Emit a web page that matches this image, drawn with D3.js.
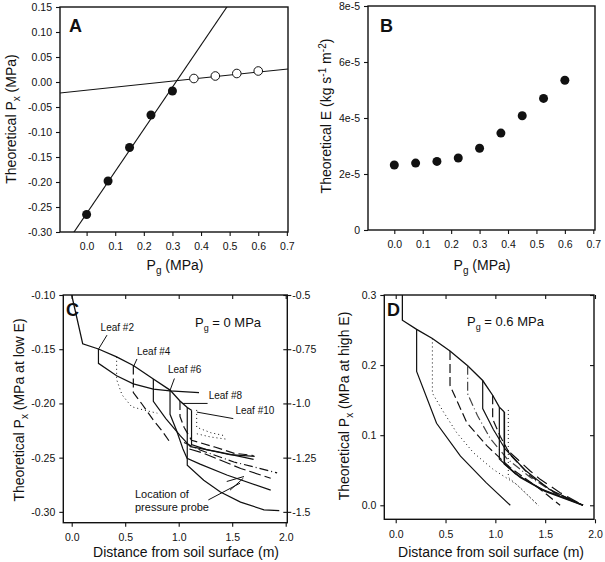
<!DOCTYPE html>
<html><head><meta charset="utf-8">
<script src="https://cdn.jsdelivr.net/npm/d3@7"></script>
<style>
html,body{margin:0;padding:0;background:#fff;}
svg text{font-family:"Liberation Sans",Arial,sans-serif;fill:#111;}
</style></head>
<body><svg id="fig" width="605" height="562"></svg>
<script>
// ---------------- DATA ----------------
// Panel A
const aPgFilled = [0.0, 0.075, 0.15, 0.225, 0.30];
const aPxFilled = [-0.265, -0.198, -0.131, -0.066, -0.018];
const aPgOpen = [0.375, 0.45, 0.525, 0.60];
const aPxOpen = [0.007, 0.012, 0.017, 0.022];
const aFitSteep = [[-0.07, -0.322], [0.52, 0.175]];
const aFitFlat = [[-0.10, -0.0225], [0.71, 0.0265]];
const aXTicks = [0.0, 0.1, 0.2, 0.3, 0.4, 0.5, 0.6, 0.7];
const aYTicks = [0.15, 0.10, 0.05, 0.00, -0.05, -0.10, -0.15, -0.20, -0.25, -0.30];
// Panel B
const bPg = [0.0, 0.075, 0.15, 0.225, 0.30, 0.375, 0.45, 0.525, 0.60];
const bE = [2.32e-5, 2.39e-5, 2.45e-5, 2.57e-5, 2.92e-5, 3.46e-5, 4.08e-5, 4.70e-5, 5.35e-5];
const bYTicks = [0, 2e-5, 4e-5, 6e-5, 8e-5];
const bYLabels = ["0", "2e-5", "4e-5", "6e-5", "8e-5"];
// Panel C (distance m, Px MPa)
const cStem = [[0.0,-0.10],[0.103,-0.145],[0.25,-0.1498],[0.42,-0.157],[0.576,-0.165],[0.763,-0.1775],[0.919,-0.1877],[1.012,-0.1977],[1.08,-0.2038],[1.12,-0.2063]];
const cLeafPaths = [
  [[0.25,-0.1498],[0.25,-0.163],[0.42,-0.1744],[0.576,-0.182],[0.763,-0.1868],[0.919,-0.1884],[1.19,-0.190]],
  [[0.42,-0.157],[0.42,-0.178],[0.47,-0.192],[0.56,-0.203],[0.67,-0.206],[0.80,-0.209]],
  [[0.576,-0.165],[0.576,-0.190],[0.66,-0.201],[0.76,-0.215],[0.85,-0.226],[0.92,-0.236]],
  [[0.763,-0.1775],[0.763,-0.198],[0.88,-0.214],[1.016,-0.230],[1.11,-0.2398],[1.36,-0.2444],[1.70,-0.2516]],
  [[0.919,-0.1877],[0.919,-0.210],[0.98,-0.225],[1.04,-0.242],[1.078,-0.2506],[1.2,-0.256],[1.45,-0.266],[1.86,-0.280]],
  [[1.012,-0.1977],[1.012,-0.212],[1.05,-0.222],[1.12,-0.234],[1.33,-0.240],[1.52,-0.246],[1.70,-0.248]],
  [[1.08,-0.2038],[1.08,-0.257],[1.234,-0.2708],[1.39,-0.2817],[1.578,-0.291],[1.797,-0.2981],[1.94,-0.2988]],
  [[1.12,-0.2063],[1.12,-0.238],[1.26,-0.2426],[1.48,-0.2473],[1.71,-0.2488]],
  [[1.168,-0.206],[1.168,-0.222],[1.30,-0.227],[1.44,-0.230]],
  [[1.17,-0.228],[1.30,-0.231],[1.45,-0.233]],
  [[1.05,-0.236],[1.20,-0.243],[1.516,-0.254],[1.92,-0.264]],
  [[1.1,-0.242],[1.234,-0.246],[1.58,-0.260],[1.86,-0.269]]
];
const cProbeArrows = [[[1.449,-0.272],[1.61,-0.2674]],[[1.48,-0.280],[1.604,-0.269]],[[1.277,-0.289],[1.573,-0.2736]]];
const cLeafLabels = ["Leaf #2","Leaf #4","Leaf #6","Leaf #8","Leaf #10"];
const cLeafLabelAt = [[0.27,-0.133],[0.61,-0.155],[0.90,-0.172],[1.28,-0.196],[1.53,-0.210]];
const cLeafPointTo = [[0.25,-0.150],[0.578,-0.166],[0.919,-0.188],[1.03,-0.2],[1.17,-0.208]];
const cLeafPointFrom = [[0.33,-0.137],[0.61,-0.159],[0.96,-0.177],[1.27,-0.200],[1.51,-0.214]];
const cXTicks = [0.0, 0.5, 1.0, 1.5, 2.0];
const cYTicks = [-0.10, -0.15, -0.20, -0.25, -0.30];
const cY2Ticks = [-0.5, -0.75, -1.0, -1.25, -1.5];
const cY2Labels = ["-0.5", "-0.75", "-1.0", "-1.25", "-1.5"];
// Panel D
const dStem = [[0.067,0.30],[0.067,0.264],[0.21,0.251],[0.368,0.238],[0.545,0.220],[0.722,0.199],[0.873,0.178],[0.973,0.157],[1.04,0.140],[1.09,0.133]];
const dLeafPaths = [
  [[0.21,0.251],[0.21,0.191],[0.41,0.117],[0.65,0.070],[0.91,0.032],[1.15,0.0]],
  [[0.368,0.238],[0.368,0.160],[0.48,0.133],[0.61,0.104],[0.78,0.075],[0.98,0.051],[1.21,0.030],[1.43,0.0]],
  [[0.545,0.220],[0.545,0.171],[0.713,0.118],[0.914,0.085],[1.147,0.054],[1.449,0.023],[1.65,0.0]],
  [[0.722,0.199],[0.722,0.159],[0.82,0.128],[0.95,0.095],[1.12,0.066],[1.35,0.040],[1.60,0.017],[1.88,0.0]],
  [[0.873,0.178],[0.873,0.138],[0.98,0.108],[1.10,0.080],[1.30,0.050],[1.55,0.022],[1.88,0.0]],
  [[0.973,0.157],[0.973,0.123],[1.05,0.098],[1.15,0.072],[1.35,0.042],[1.60,0.018],[1.88,0.0]],
  [[1.04,0.140],[1.04,0.066],[1.20,0.045],[1.45,0.024],[1.88,0.0]],
  [[1.09,0.133],[1.09,0.059],[1.25,0.040],[1.50,0.020],[1.88,0.0]],
  [[1.13,0.136],[1.13,0.040],[1.25,0.025],[1.43,0.0]],
  [[1.15,0.075],[1.35,0.049],[1.45,0.037],[1.65,0.018],[1.88,0.0]]
];
const dXTicks = [0.0, 0.5, 1.0, 1.5, 2.0];
const dYTicks = [0.0, 0.1, 0.2, 0.3];

// ---------------- DRAWING ----------------
const svg = d3.select("#fig");
const C0 = "#111";
function box(g, x0, x1, y0, y1){
  g.append("rect").attr("x",x0).attr("y",y0).attr("width",x1-x0).attr("height",y1-y0)
   .attr("fill","none").attr("stroke",C0).attr("stroke-width",1.4);
}
function styleAxis(sel){
  sel.select(".domain").remove();
  sel.selectAll(".tick line").attr("stroke",C0).attr("stroke-width",1.1);
  sel.selectAll(".tick text").attr("font-size","10.5px").attr("fill",C0).style("font-family","'Liberation Sans',Arial,sans-serif");
}
function clip(id,x0,x1,y0,y1){
  svg.append("clipPath").attr("id",id).append("rect").attr("x",x0).attr("y",y0).attr("width",x1-x0).attr("height",y1-y0);
}
const lineGen = (x,y)=>d3.line().x(d=>x(d[0])).y(d=>y(d[1]));
const minusFix = f => d => f(d).replace("\u2212","-");

// ===== Panel A =====
{
  const L=60,R=288,T=7,B=232;
  const x=d3.scaleLinear().domain([-0.093,0.704]).range([L,R]);
  const y=d3.scaleLinear().domain([-0.30,0.15]).range([B,T]);
  const g=svg.append("g");
  clip("clipA",L,R,T,B);
  const lg=g.append("g").attr("clip-path","url(#clipA)");
  [aFitSteep,aFitFlat].forEach(p=>lg.append("path").attr("d",lineGen(x,y)(p)).attr("fill","none").attr("stroke",C0).attr("stroke-width",1.1));
  box(g,L,R,T,B);
  g.append("g").attr("transform",`translate(0,${B})`).call(d3.axisBottom(x).tickValues(aXTicks).tickFormat(d3.format(".1f")).tickSize(4).tickPadding(7)).call(styleAxis);
  g.append("g").attr("transform",`translate(${L},0)`).call(d3.axisLeft(y).tickValues(aYTicks).tickFormat(minusFix(d3.format(".2f"))).tickSize(4).tickPadding(4)).call(styleAxis);
  g.selectAll(".fA").data(aPgFilled).enter().append("circle").attr("cx",d=>x(d)).attr("cy",(d,i)=>y(aPxFilled[i])).attr("r",4.5).attr("fill",C0);
  g.selectAll(".oA").data(aPgOpen).enter().append("circle").attr("cx",d=>x(d)).attr("cy",(d,i)=>y(aPxOpen[i])).attr("r",4.3).attr("fill","#fff").attr("stroke",C0).attr("stroke-width",1);
  g.append("text").attr("x",69).attr("y",32).attr("font-size","18px").attr("font-weight","bold").text("A");
  const t=g.append("text").attr("x",175).attr("y",270).attr("text-anchor","middle").attr("font-size","14px");
  t.append("tspan").text("P"); t.append("tspan").attr("font-size","10px").attr("dy",4).text("g"); t.append("tspan").attr("dy",-4).text(" (MPa)");
  const ty=g.append("text").attr("transform","translate(16,119) rotate(-90)").attr("text-anchor","middle").attr("font-size","14px");
  ty.append("tspan").text("Theoretical P"); ty.append("tspan").attr("font-size","10px").attr("dy",4).text("x"); ty.append("tspan").attr("dy",-4).text(" (MPa)");
}
// ===== Panel B =====
{
  const L=368,R=595,T=6,B=230;
  const x=d3.scaleLinear().domain([-0.0925,0.706]).range([L,R]);
  const y=d3.scaleLinear().domain([0,8e-5]).range([B,T]);
  const g=svg.append("g");
  box(g,L,R,T,B);
  g.append("g").attr("transform",`translate(0,${B})`).call(d3.axisBottom(x).tickValues(aXTicks).tickFormat(d3.format(".1f")).tickSize(4).tickPadding(7)).call(styleAxis);
  g.append("g").attr("transform",`translate(${L},0)`).call(d3.axisLeft(y).tickValues(bYTicks).tickFormat((d,i)=>bYLabels[i]).tickSize(4).tickPadding(4)).call(styleAxis);
  g.selectAll(".fB").data(bPg).enter().append("circle").attr("cx",d=>x(d)).attr("cy",(d,i)=>y(bE[i])).attr("r",4.5).attr("fill",C0);
  g.append("text").attr("x",380).attr("y",32).attr("font-size","18px").attr("font-weight","bold").text("B");
  const t=g.append("text").attr("x",482).attr("y",270).attr("text-anchor","middle").attr("font-size","14px");
  t.append("tspan").text("P"); t.append("tspan").attr("font-size","10px").attr("dy",4).text("g"); t.append("tspan").attr("dy",-4).text(" (MPa)");
  const ty=g.append("text").attr("transform","translate(331,116) rotate(-90)").attr("text-anchor","middle").attr("font-size","14px");
  ty.append("tspan").text("Theoretical E (kg s");
  ty.append("tspan").attr("font-size","10px").attr("dy",-5).text("-1");
  ty.append("tspan").attr("dy",5).text(" m");
  ty.append("tspan").attr("font-size","10px").attr("dy",-5).text("-2");
  ty.append("tspan").attr("dy",5).text(")");
}
const dashes = ["", "1,3", "9,4", "", "", "9,4", "", "", "1,3", "1,3", "9,3,1,3", "12,4"];
// ===== Panel C =====
{
  const L=63.3,R=287.3,T=295,B=522.7;
  const x=d3.scaleLinear().domain([-0.0785,2.015]).range([L,R]);
  const y=d3.scaleLinear().domain([-0.31,-0.10]).range([B,T]);
  const y2=d3.scaleLinear().domain([-1.55,-0.5]).range([B,T]);
  const g=svg.append("g");
  clip("clipC",L,R,T,B);
  const lg=g.append("g").attr("clip-path","url(#clipC)");
  lg.append("path").attr("d",lineGen(x,y)(cStem)).attr("fill","none").attr("stroke",C0).attr("stroke-width",1.3);
  cLeafPaths.forEach((p,i)=>lg.append("path").attr("d",lineGen(x,y)(p)).attr("fill","none").attr("stroke",C0)
     .attr("stroke-width",dashes[i]==="1,3"?1.0:1.2).attr("stroke-dasharray",dashes[i]||null));
  cProbeArrows.forEach(p=>lg.append("path").attr("d",lineGen(x,y)(p)).attr("fill","none").attr("stroke",C0).attr("stroke-width",1));
  cLeafPointFrom.forEach((p,i)=>lg.append("path").attr("d",lineGen(x,y)([p,cLeafPointTo[i]])).attr("fill","none").attr("stroke",C0).attr("stroke-width",1));
  box(g,L,R,T,B);
  g.append("g").attr("transform",`translate(0,${B})`).call(d3.axisBottom(x).tickValues(cXTicks).tickFormat(d3.format(".1f")).tickSize(4).tickPadding(7)).call(styleAxis);
  g.append("g").attr("transform",`translate(0,${T})`).call(d3.axisBottom(x).tickValues(cXTicks).tickFormat("").tickSize(4)).call(styleAxis);
  g.append("g").attr("transform",`translate(${L},0)`).call(d3.axisLeft(y).tickValues(cYTicks).tickFormat(minusFix(d3.format(".2f"))).tickSize(4).tickPadding(4)).call(styleAxis);
  const ra=g.append("g").attr("transform",`translate(${R},0)`).call(d3.axisRight(y2).tickValues(cY2Ticks).tickFormat((d,i)=>cY2Labels[i]).tickSize(4).tickPadding(1)).call(styleAxis);
  ra.selectAll(".tick line").attr("x1",-4);
  cLeafLabels.forEach((s,i)=>g.append("text").attr("x",x(cLeafLabelAt[i][0])).attr("y",y(cLeafLabelAt[i][1])).attr("font-size","10px").text(s));
  g.append("text").attr("x",135).attr("y",498).attr("font-size","11px").text("Location of");
  g.append("text").attr("x",135).attr("y",511).attr("font-size","11px").text("pressure probe");
  const pg=g.append("text").attr("x",195).attr("y",327).attr("font-size","13px");
  pg.append("tspan").text("P"); pg.append("tspan").attr("font-size","9px").attr("dy",4).text("g"); pg.append("tspan").attr("dy",-4).text(" = 0 MPa");
  g.append("text").attr("x",66).attr("y",316).attr("font-size","18px").attr("font-weight","bold").text("C");
  g.append("text").attr("x",186).attr("y",557).attr("text-anchor","middle").attr("font-size","14px").text("Distance from soil surface (m)");
  const ty=g.append("text").attr("transform","translate(24,410) rotate(-90)").attr("text-anchor","middle").attr("font-size","14px");
  ty.append("tspan").text("Theoretical P"); ty.append("tspan").attr("font-size","10px").attr("dy",4).text("x"); ty.append("tspan").attr("dy",-4).text(" (MPa at low E)");
}
const dDashes = ["", "1,3", "9,4", "9,3,1,3", "", "9,4", "", "", "1,3", "12,6"];
// ===== Panel D =====
{
  const L=384.3,R=594,T=295,B=519.3;
  const x=d3.scaleLinear().domain([-0.1145,1.99]).range([L,R]);
  const y=d3.scaleLinear().domain([-0.02,0.30]).range([B,T]);
  const g=svg.append("g");
  clip("clipD",L,R,T,B);
  const lg=g.append("g").attr("clip-path","url(#clipD)");
  lg.append("path").attr("d",lineGen(x,y)(dStem)).attr("fill","none").attr("stroke",C0).attr("stroke-width",1.3);
  dLeafPaths.forEach((p,i)=>lg.append("path").attr("d",lineGen(x,y)(p)).attr("fill","none").attr("stroke",i===3?"#444":C0)
     .attr("stroke-width",dDashes[i]==="1,3"?1.0:(i===7?1.6:1.2)).attr("stroke-dasharray",dDashes[i]||null));
  box(g,L,R,T,B);
  g.append("g").attr("transform",`translate(0,${B})`).call(d3.axisBottom(x).tickValues(dXTicks).tickFormat(d3.format(".1f")).tickSize(4).tickPadding(7)).call(styleAxis);
  g.append("g").attr("transform",`translate(0,${T})`).call(d3.axisBottom(x).tickValues(dXTicks).tickFormat("").tickSize(4)).call(styleAxis);
  g.append("g").attr("transform",`translate(${L},0)`).call(d3.axisLeft(y).tickValues(dYTicks).tickFormat(d3.format(".1f")).tickSize(4).tickPadding(4)).call(styleAxis);
  g.append("g").attr("transform",`translate(${R},0)`).call(d3.axisLeft(y).tickValues(dYTicks).tickFormat("").tickSize(4)).call(styleAxis);
  const pg=g.append("text").attr("x",467).attr("y",326).attr("font-size","13px");
  pg.append("tspan").text("P"); pg.append("tspan").attr("font-size","9px").attr("dy",4).text("g"); pg.append("tspan").attr("dy",-4).text(" = 0.6 MPa");
  g.append("text").attr("x",387).attr("y",316).attr("font-size","18px").attr("font-weight","bold").text("D");
  g.append("text").attr("x",491).attr("y",557).attr("text-anchor","middle").attr("font-size","14px").text("Distance from soil surface (m)");
  const ty=g.append("text").attr("transform","translate(349,406) rotate(-90)").attr("text-anchor","middle").attr("font-size","14px");
  ty.append("tspan").text("Theoretical P"); ty.append("tspan").attr("font-size","10px").attr("dy",4).text("x"); ty.append("tspan").attr("dy",-4).text(" (MPa at high E)");
}
</script></body></html>
